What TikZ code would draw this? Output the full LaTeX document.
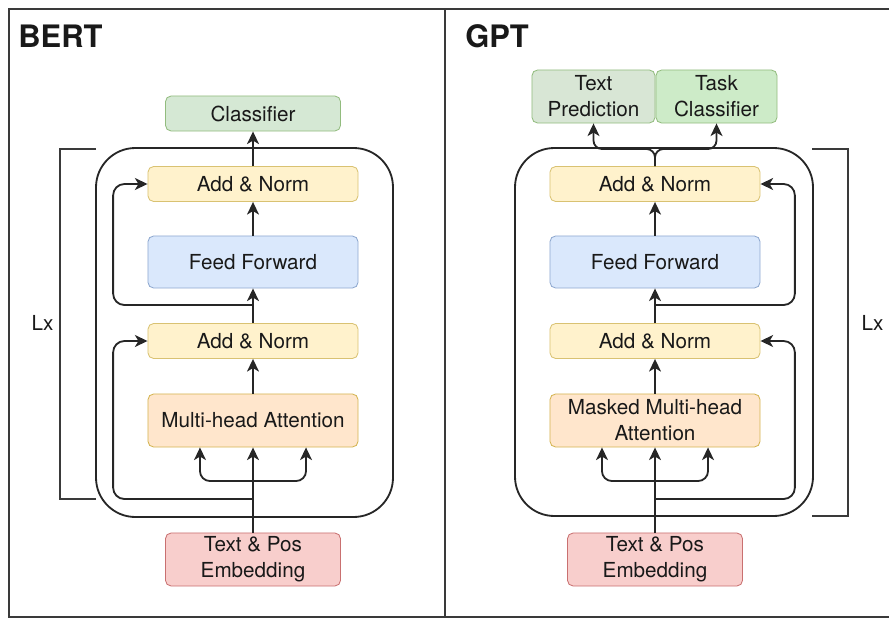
\documentclass[tikz,border=0pt]{standalone}
\usepackage{fontspec}
\setmainfont{TeX Gyre Heros}
\usetikzlibrary{arrows.meta,calc,positioning}

\definecolor{normfill}{HTML}{FFF2CC}
\definecolor{normline}{HTML}{D9C272}
\definecolor{fffill}{HTML}{DAE8FC}
\definecolor{ffline}{HTML}{8EA8CF}
\definecolor{attfill}{HTML}{FFE6CC}
\definecolor{attline}{HTML}{D4B450}
\definecolor{embfill}{HTML}{F8CECC}
\definecolor{embline}{HTML}{C97070}
\definecolor{clsfill}{HTML}{D5E8D4}
\definecolor{clsline}{HTML}{92BC7E}
\definecolor{predfill}{HTML}{D8E6D5}
\definecolor{taskfill}{HTML}{CDEBC8}
\definecolor{framegray}{HTML}{3A3A3A}

\begin{document}
\begin{tikzpicture}[x=0.025cm, y=-0.025cm,
  font=\fontsize{14.7}{18.4}\selectfont, text=black!90,
  box/.style={draw, line width=0.6pt, rounded corners=4pt, align=center, inner sep=1pt},
  normbox/.style={box, fill=normfill, draw=normline, minimum width=5.25cm, minimum height=0.875cm},
  ffbox/.style={box, fill=fffill, draw=ffline, minimum width=5.25cm, minimum height=1.3cm},
  attnbox/.style={box, fill=attfill, draw=attline, minimum width=5.25cm, minimum height=1.325cm},
  embbox/.style={box, fill=embfill, draw=embline, minimum width=4.375cm, minimum height=1.325cm},
  outbox/.style={box, draw=clsline},
  wire/.style={line width=1.3pt, black!85},
  conn/.style={wire, -{Stealth[length=9pt,width=8.5pt,inset=2.5pt]}},
  frame/.style={line width=1pt, framegray},
  title/.style={font=\fontsize{22}{26}\selectfont\bfseries, anchor=base west, inner sep=0pt}]

  \useasboundingbox (0,0) rectangle (889,619);

  % outer frame and divider
  \draw[frame] (889,9) -- (9,9) -- (9,617) -- (889,617);
  \draw[frame] (445,9) -- (445,617);

  \node[title] (b-title) at (18,47) {BERT};
  \node[title] (g-title) at (465,47) {GPT};

  % encoder / decoder blocks
  \draw[wire, rounded corners=28pt] (96,148) rectangle (393,517);
  \draw[wire, rounded corners=28pt] (515,148) rectangle (813,516);

  \foreach \p/\cx/\sd/\sg/\txt in {%
    b/253/west/-1/{Multi-head Attention},%
    g/655/east/1/{Masked Multi-head\\Attention}%
  }{
    \node[normbox] (\p-an2) at (\cx,184) {Add \& Norm};
    \node[ffbox] (\p-ff) at (\cx,262) {Feed Forward};
    \node[normbox] (\p-an1) at (\cx,341) {Add \& Norm};
    \node[attnbox] (\p-mha) at (\cx,420.5) {\txt};
    \node[embbox] (\p-emb) at (\cx,559.5) {Text \& Pos\\Embedding};

    \draw[conn] (\p-emb.north) -- (\p-mha.south);
    \draw[conn] (\p-mha.north) -- (\p-an1.south);
    \draw[conn] (\p-an1.north) -- (\p-ff.south);
    \draw[conn] (\p-ff.north) -- (\p-an2.south);

    % q, k, v
    \coordinate (\p-fork) at (\cx,481);
    \draw[conn, rounded corners=7pt] (\p-fork) -| ([xshift=-1.325cm]\p-mha.south);
    \draw[conn, rounded corners=7pt] (\p-fork) -| ([xshift=1.325cm]\p-mha.south);

    % residuals
    \coordinate (\p-r1) at (\cx,499);
    \coordinate (\p-r2) at (\cx,305);
    \draw[conn, rounded corners=8pt] (\p-r1) -| ([xshift=\sg*0.86cm]\p-an1.\sd) -- (\p-an1.\sd);
    \draw[conn, rounded corners=8pt] (\p-r2) -| ([xshift=\sg*0.86cm]\p-an2.\sd) -- (\p-an2.\sd);
  }

  % heads
  \node[outbox, fill=clsfill, minimum width=4.375cm, minimum height=0.875cm] (b-cls) at (253,113.5) {Classifier};
  \draw[conn] (b-an2.north) -- (b-cls.south);

  \node[outbox, fill=predfill, minimum width=3.075cm, minimum height=1.325cm] (g-pred) at (593.5,96.5) {Text\\Prediction};
  \node[outbox, fill=taskfill, minimum width=3.025cm, minimum height=1.325cm] (g-task) at (716.5,96.5) {Task\\Classifier};
  \coordinate (g-split) at (655,149);
  \draw[conn, rounded corners=6pt] (g-an2.north) -- (g-split) -| (g-pred.south);
  \draw[conn, rounded corners=6pt] (g-an2.north) -- (g-split) -| (g-task.south);

  % layer brackets
  \draw[frame] (96,149) -- (60,149) -- (60,499) -- (96,499);
  \draw[frame] (812,149) -- (848,149) -- (848,516) -- (812,516);
  \node (b-lx) at (42.5,323) {Lx};
  \node (g-lx) at (872.5,323) {Lx};
\end{tikzpicture}
\end{document}
